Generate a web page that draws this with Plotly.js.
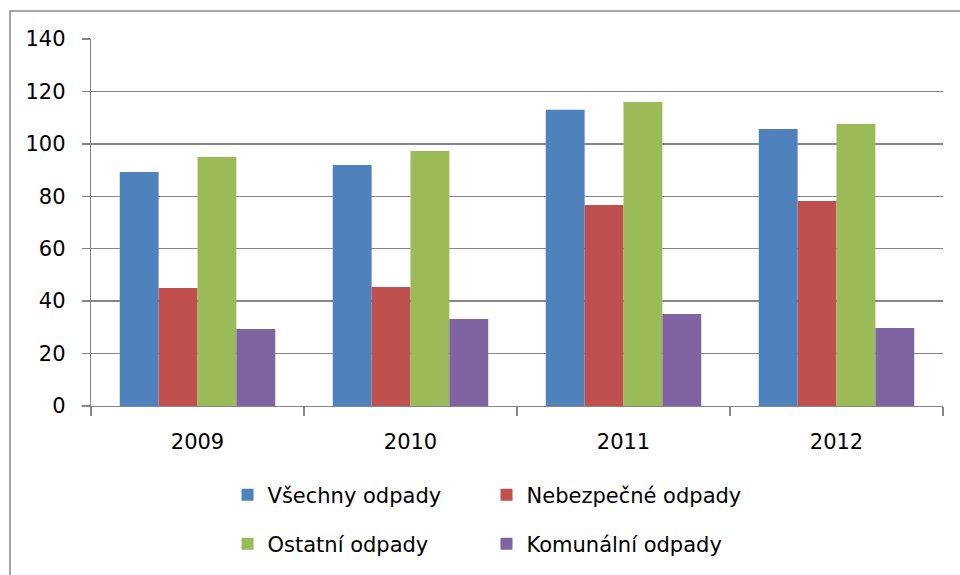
<!DOCTYPE html>
<html>
<head>
<meta charset="utf-8">
<script src="https://cdn.plot.ly/plotly-3.0.1.min.js"></script>
<style>
  body { margin: 0; background: #fff; }
  #chart { width: 960px; height: 575px; }
</style>
</head>
<body>
<div id="chart"></div>
<script>
// data
const years = ['2009', '2010', '2011', '2012'];
const seriesNames = ['Všechny odpady', 'Nebezpečné odpady', 'Ostatní odpady', 'Komunální odpady'];
const vsechny = [89.3, 91.9, 113.0, 105.7];
const nebezpecne = [45.0, 45.4, 76.7, 78.2];
const ostatni = [95.0, 97.3, 116.0, 107.6];
const komunalni = [29.4, 33.2, 35.1, 29.8];
const yTicks = [0, 20, 40, 60, 80, 100, 120, 140];

const colors = ['#4F81BD', '#C0504D', '#9BBB59', '#8064A2'];
const values = [vsechny, nebezpecne, ostatni, komunalni];
const legendIds = ['legend', 'legend', 'legend2', 'legend2'];
const font = 'DejaVu Sans, Liberation Sans, Arial, sans-serif';
const gridColor = '#868686';

const traces = values.map((v, i) => ({
  type: 'bar',
  name: seriesNames[i],
  x: years,
  y: v,
  marker: { color: colors[i] },
  legend: legendIds[i],
  hoverinfo: 'x+y+name',
}));

// one horizontal legend per row, two entries in each
function legendRow(y) {
  return {
    orientation: 'h',
    xref: 'container',
    yref: 'container',
    x: 0.237,
    y,
    xanchor: 'left',
    yanchor: 'middle',
    entrywidth: 214, // text part only, symbol area comes on top
    font: { family: font, size: 21, color: '#000' },
    bgcolor: 'rgba(0,0,0,0)',
    borderwidth: 0,
  };
}

const layout = {
  width: 960,
  height: 575,
  margin: { l: 91, r: 17, t: 39, b: 169 },
  paper_bgcolor: '#fff',
  plot_bgcolor: '#fff',
  barmode: 'group',
  bargap: 0.27,
  bargroupgap: 0,
  font: { family: font, size: 21, color: '#000' },
  xaxis: {
    type: 'category',
    tickson: 'boundaries',
    ticks: 'outside',
    ticklen: 9,
    tickcolor: gridColor,
    tickwidth: 1.3,
    ticklabelstandoff: 16,
    showline: true,
    linecolor: gridColor,
    linewidth: 1.3,
    showgrid: false,
    tickfont: { family: font, size: 21, color: '#000' },
  },
  yaxis: {
    range: [0, 140],
    tickvals: yTicks,
    ticks: 'outside',
    ticklen: 8,
    tickcolor: gridColor,
    tickwidth: 1.3,
    ticklabelstandoff: 12,
    showline: true,
    linecolor: gridColor,
    linewidth: 1.3,
    showgrid: true,
    gridcolor: gridColor,
    gridwidth: 1.3,
    zeroline: false,
    tickfont: { family: font, size: 21, color: '#000' },
  },
  legend: legendRow(1 - 495 / 575),
  legend2: legendRow(1 - 544 / 575),
  // outer chart frame, only its top and left edges fall inside the picture
  shapes: [{
    type: 'rect',
    xref: 'paper',
    yref: 'paper',
    x0: (10 - 91) / 852,
    x1: (970 - 91) / 852,
    y0: (406 - 585) / 367,
    y1: (406 - 11) / 367,
    line: { color: gridColor, width: 1.5 },
    fillcolor: 'rgba(0,0,0,0)',
    layer: 'below',
  }],
};

Plotly.newPlot('chart', traces, layout, { displayModeBar: false, staticPlot: true });
</script>
</body>
</html>
